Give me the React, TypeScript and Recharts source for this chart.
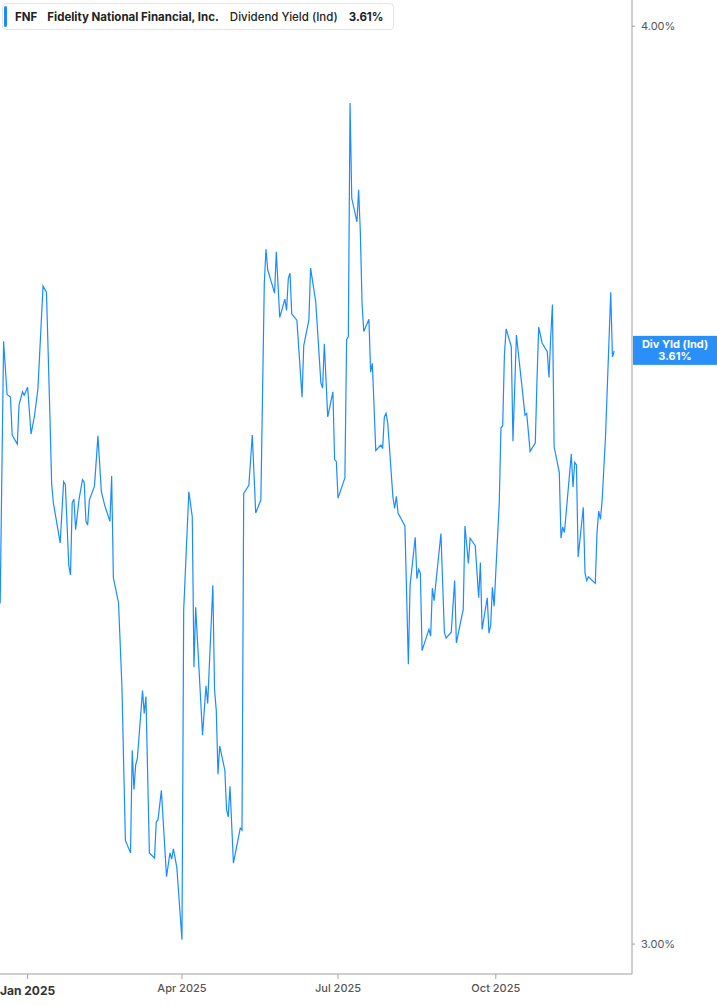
import React from "react";
import { LineChart, Line, XAxis, YAxis, ReferenceLine } from "recharts";

// Dividend yield (indicated), FNF, Dec 2024 - Dec 2025
const dates = [
  "2024-12-16", "2024-12-18", "2024-12-20", "2024-12-22", "2024-12-23", "2024-12-26", "2024-12-27", "2024-12-29",
  "2024-12-30", "2025-01-01", "2025-01-03", "2025-01-05", "2025-01-07", "2025-01-10", "2025-01-12", "2025-01-14",
  "2025-01-15", "2025-01-16", "2025-01-20", "2025-01-22", "2025-01-23", "2025-01-25", "2025-01-26", "2025-01-27",
  "2025-01-28", "2025-01-29", "2025-01-31", "2025-02-02", "2025-02-03", "2025-02-04", "2025-02-05", "2025-02-06",
  "2025-02-09", "2025-02-11", "2025-02-13", "2025-02-15", "2025-02-18", "2025-02-19", "2025-02-20", "2025-02-23",
  "2025-02-25", "2025-02-27", "2025-03-02", "2025-03-03", "2025-03-04", "2025-03-05", "2025-03-06", "2025-03-09",
  "2025-03-10", "2025-03-11", "2025-03-13", "2025-03-16", "2025-03-17", "2025-03-18", "2025-03-20", "2025-03-23",
  "2025-03-25", "2025-03-26", "2025-03-27", "2025-03-29", "2025-04-01", "2025-04-02", "2025-04-05", "2025-04-07",
  "2025-04-08", "2025-04-09", "2025-04-13", "2025-04-15", "2025-04-16", "2025-04-19", "2025-04-20", "2025-04-21",
  "2025-04-22", "2025-04-23", "2025-04-26", "2025-04-27", "2025-04-28", "2025-04-29", "2025-05-01", "2025-05-05",
  "2025-05-06", "2025-05-07", "2025-05-10", "2025-05-12", "2025-05-14", "2025-05-17", "2025-05-19", "2025-05-20",
  "2025-05-21", "2025-05-25", "2025-05-26", "2025-05-28", "2025-05-31", "2025-06-01", "2025-06-02", "2025-06-03",
  "2025-06-04", "2025-06-07", "2025-06-10", "2025-06-11", "2025-06-14", "2025-06-15", "2025-06-18", "2025-06-21",
  "2025-06-22", "2025-06-23", "2025-06-25", "2025-06-28", "2025-06-29", "2025-06-30", "2025-07-01", "2025-07-05",
  "2025-07-06", "2025-07-07", "2025-07-08", "2025-07-09", "2025-07-12", "2025-07-13", "2025-07-14", "2025-07-15",
  "2025-07-16", "2025-07-19", "2025-07-20", "2025-07-21", "2025-07-23", "2025-07-26", "2025-07-27", "2025-07-28",
  "2025-07-29", "2025-07-30", "2025-08-02", "2025-08-03", "2025-08-04", "2025-08-05", "2025-08-09", "2025-08-11",
  "2025-08-12", "2025-08-15", "2025-08-16", "2025-08-17", "2025-08-18", "2025-08-19", "2025-08-23", "2025-08-24",
  "2025-08-25", "2025-08-26", "2025-08-30", "2025-09-01", "2025-09-02", "2025-09-05", "2025-09-07", "2025-09-08",
  "2025-09-12", "2025-09-13", "2025-09-15", "2025-09-16", "2025-09-19", "2025-09-21", "2025-09-22", "2025-09-23",
  "2025-09-26", "2025-09-27", "2025-09-28", "2025-09-29", "2025-09-30", "2025-10-03", "2025-10-04", "2025-10-05",
  "2025-10-06", "2025-10-07", "2025-10-10", "2025-10-11", "2025-10-13", "2025-10-16", "2025-10-18", "2025-10-19",
  "2025-10-21", "2025-10-24", "2025-10-25", "2025-10-26", "2025-10-28", "2025-10-31", "2025-11-01", "2025-11-02",
  "2025-11-03", "2025-11-04", "2025-11-07", "2025-11-08", "2025-11-09", "2025-11-10", "2025-11-14", "2025-11-15",
  "2025-11-16", "2025-11-17", "2025-11-18", "2025-11-21", "2025-11-22", "2025-11-23", "2025-11-24", "2025-11-28",
  "2025-11-29", "2025-11-30", "2025-12-01", "2025-12-02", "2025-12-04", "2025-12-07", "2025-12-08", "2025-12-09",
];

const yields = [
  3.338, 3.624, 3.564, 3.561, 3.519, 3.509, 3.552, 3.567,
  3.563, 3.572, 3.52, 3.54, 3.57, 3.687, 3.68, 3.541,
  3.466, 3.445, 3.402, 3.468, 3.465, 3.378, 3.368, 3.445,
  3.449, 3.416, 3.449, 3.47, 3.467, 3.425, 3.421, 3.448,
  3.463, 3.518, 3.457, 3.442, 3.425, 3.474, 3.365, 3.339,
  3.252, 3.099, 3.087, 3.188, 3.149, 3.173, 3.18, 3.248,
  3.225, 3.242, 3.087, 3.082, 3.117, 3.119, 3.148, 3.064,
  3.087, 3.081, 3.091, 3.073, 3.004, 3.331, 3.457, 3.43,
  3.272, 3.334, 3.203, 3.253, 3.235, 3.357, 3.249, 3.228,
  3.164, 3.192, 3.168, 3.129, 3.122, 3.152, 3.077, 3.111,
  3.109, 3.455, 3.464, 3.519, 3.434, 3.448, 3.69, 3.73,
  3.706, 3.679, 3.727, 3.651, 3.672, 3.659, 3.696, 3.702,
  3.655, 3.648, 3.561, 3.619, 3.648, 3.708, 3.669, 3.577,
  3.571, 3.621, 3.539, 3.567, 3.492, 3.49, 3.45, 3.472,
  3.626, 3.629, 3.905, 3.79, 3.762, 3.8, 3.75, 3.667,
  3.635, 3.649, 3.589, 3.599, 3.502, 3.508, 3.504, 3.539,
  3.543, 3.532, 3.451, 3.439, 3.452, 3.434, 3.42, 3.275,
  3.357, 3.408, 3.364, 3.374, 3.37, 3.289, 3.311, 3.304,
  3.354, 3.341, 3.412, 3.308, 3.302, 3.308, 3.362, 3.297,
  3.332, 3.42, 3.38, 3.407, 3.399, 3.344, 3.381, 3.311,
  3.344, 3.307, 3.315, 3.355, 3.335, 3.445, 3.527, 3.529,
  3.608, 3.638, 3.618, 3.512, 3.631, 3.577, 3.541, 3.543,
  3.501, 3.51, 3.58, 3.64, 3.622, 3.612, 3.583, 3.629,
  3.666, 3.506, 3.478, 3.407, 3.419, 3.413, 3.498, 3.462,
  3.489, 3.486, 3.387, 3.44, 3.37, 3.362, 3.366, 3.359,
  3.413, 3.436, 3.427, 3.448, 3.519, 3.68, 3.606, 3.613,
];

const tickDates = ["2025-01-01", "2025-04-01", "2025-07-01", "2025-10-01"];
const tickLabels = ["Jan 2025", "Apr 2025", "Jul 2025", "Oct 2025"];
const yTicks = [3, 4];

const DAY = 86400000;
const BASE = Date.parse("2025-01-01");
const toDay = (s: string) => (Date.parse(s) - BASE) / DAY;

const data = dates.map((d, i) => ({ day: toDay(d), value: yields[i] }));
const xTicks = tickDates.map(toDay);
const lastValue = yields[yields.length - 1];

const BLUE = "#1a8cff";
const FONT = "Inter, 'Noto Sans', sans-serif";

function XTick(props: any) {
  const { x, y, payload, index } = props;
  const i = xTicks.indexOf(payload.value);
  const first = index === 0;
  return (
    <text
      x={x}
      y={y}
      dy={first ? "1em" : "0.8em"}
      textAnchor="middle"
      fontFamily={FONT}
      fontSize={first ? 12 : 11}
      fontWeight={first ? 700 : 500}
      fill={first ? "#333" : "#555"}
    >
      {tickLabels[i]}
    </text>
  );
}

function PriceTag(props: any) {
  const { viewBox } = props;
  const x = viewBox.x + viewBox.width;
  const y = viewBox.y;
  return (
    <g>
      <rect x={x + 1} y={y - 15} width={85} height={29} fill="#2a8ff7" />
      <text x={x + 43} y={y - 3} textAnchor="middle" fontFamily={FONT} fontSize={11} fontWeight={700} fill="#fff">
        Div Yld (Ind)
      </text>
      <text x={x + 43} y={y + 9} textAnchor="middle" fontFamily={FONT} fontSize={11} fontWeight={700} fill="#fff">
        {lastValue.toFixed(2)}%
      </text>
    </g>
  );
}

export default function App() {
  return (
    <div style={{ position: "absolute", left: 0, top: 0, width: 717, height: 1005, background: "#fff", fontFamily: FONT }}>
      <LineChart width={717} height={1005} data={data} margin={{ top: 0, right: 0, bottom: 0, left: 0 }}>
        <XAxis
          dataKey="day"
          type="number"
          domain={[-16.1, 352.4]}
          allowDataOverflow
          ticks={xTicks}
          tick={<XTick />}
          height={31}
          tickSize={5}
          tickMargin={4}
          stroke="#a0a0a0"
          tickLine={{ stroke: "#a0a0a0" }}
        />
        <YAxis
          orientation="right"
          type="number"
          scale="log"
          domain={[2.972, 4.033]}
          allowDataOverflow
          ticks={yTicks}
          tickFormatter={(v: number) => `${v.toFixed(2)}%`}
          width={85}
          tickSize={3}
          tickMargin={6}
          stroke="#a0a0a0"
          tick={{ fill: "#555", fontSize: 11, fontFamily: FONT }}
        />
        <ReferenceLine y={lastValue} stroke="none" label={{ content: (p: any) => <PriceTag {...p} /> }} />
        <Line
          type="linear"
          dataKey="value"
          stroke={BLUE}
          strokeWidth={1.2}
          dot={false}
          activeDot={false}
          isAnimationActive={false}
        />
      </LineChart>
      <div
        style={{
          position: "absolute",
          left: 2,
          top: 3,
          width: 392,
          height: 27,
          border: "1px solid #e6e6e6",
          borderRadius: 4,
          background: "#fff",
          display: "flex",
          alignItems: "center",
          fontSize: 11.5,
          color: "#222",
          boxSizing: "border-box",
          whiteSpace: "nowrap",
        }}
      >
        <div style={{ width: 3, height: 21, background: BLUE, borderRadius: 2, marginLeft: 1, marginRight: 8 }} />
        <span style={{ fontWeight: 700, marginRight: 10 }}>FNF</span>
        <span style={{ fontWeight: 700, marginRight: 11 }}>Fidelity National Financial, Inc.</span>
        <span style={{ fontWeight: 500, marginRight: 11 }}>Dividend Yield (Ind)</span>
        <span style={{ fontWeight: 700 }}>{lastValue.toFixed(2)}%</span>
      </div>
    </div>
  );
}
